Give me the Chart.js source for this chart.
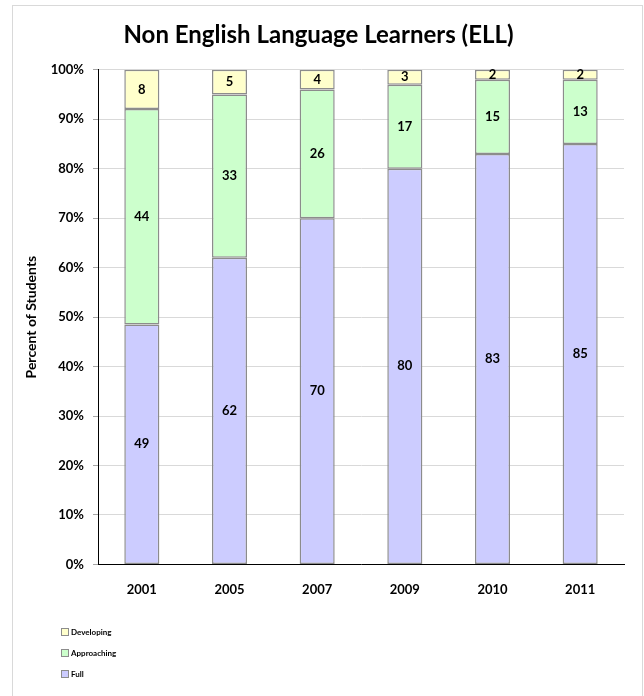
<!DOCTYPE html>
<html>
<head>
<meta charset="utf-8">
<title>Non English Language Learners (ELL)</title>
<script src="https://cdn.jsdelivr.net/npm/chart.js@4"></script>
<style>
    body { margin: 0; background: #fff; }
    #frame {
        position: absolute; left: 12px; top: 5px; width: 631px; height: 700px;
        border: 1px solid #d9d9d9; box-sizing: border-box; background: #fff;
    }
    #ellChart { position: absolute; left: 0; top: 0; }
    #legend {
        position: absolute; left: 48px; top: 615px;
        font: bold 8px Lato, "Noto Sans", sans-serif; color: #000;
    }
    .legend-item { display: flex; align-items: center; height: 21px; }
    .legend-box { width: 6px; height: 6px; border: 1px solid #8c8c8c; margin-right: 2px; }
</style>
</head>
<body>
<div id="frame">
    <canvas id="ellChart" width="631" height="691"></canvas>
    <div id="legend"></div>
</div>
<script>
const years = ['2001', '2005', '2007', '2009', '2010', '2011'];
const fullValues = [49, 62, 70, 80, 83, 85];
const approachingValues = [44, 33, 26, 17, 15, 13];
const developingValues = [8, 5, 4, 3, 2, 2];
const yTicks = [0, 10, 20, 30, 40, 50, 60, 70, 80, 90, 100];

const FONT = 'Lato, "Noto Sans", sans-serif';

// each column is scaled to 100%, labels keep the raw numbers
const totals = years.map((y, i) => fullValues[i] + approachingValues[i] + developingValues[i]);
const toPercent = arr => arr.map((v, i) => v / totals[i] * 100);

const series = [
    { label: 'Full', raw: fullValues, color: '#ccccff' },
    { label: 'Approaching', raw: approachingValues, color: '#ccffcc' },
    { label: 'Developing', raw: developingValues, color: '#ffffcc' }
];

// ==========================
// Value labels in the middle of each segment
// ==========================
const segmentLabels = {
    id: 'segmentLabels',
    afterDatasetsDraw(chart) {
        const ctx = chart.ctx;
        ctx.save();
        ctx.font = `bold 13px ${FONT}`;
        ctx.fillStyle = '#000';
        ctx.textAlign = 'center';
        ctx.textBaseline = 'middle';
        chart.data.datasets.forEach((ds, di) => {
            chart.getDatasetMeta(di).data.forEach((bar, i) => {
                ctx.fillText(String(ds.raw[i]), bar.x, (bar.y + bar.base) / 2);
            });
        });
        ctx.restore();
    }
};

const ellChart = new Chart(document.getElementById('ellChart').getContext('2d'), {
    type: 'bar',
    data: {
        labels: years,
        datasets: series.map(s => ({
            label: s.label,
            raw: s.raw,
            data: toPercent(s.raw),
            backgroundColor: s.color,
            borderColor: '#8c8c8c',
            borderWidth: 1.5,
            borderSkipped: false,
            barPercentage: 0.4,
            categoryPercentage: 1
        }))
    },
    options: {
        responsive: false,
        animation: false,
        layout: { padding: { left: 0, right: 20, top: 0, bottom: 89 } },
        plugins: {
            legend: { display: false },
            tooltip: { enabled: false },
            title: {
                display: true,
                text: 'Non English Language Learners (ELL)',
                color: '#000',
                font: { family: FONT, size: 24, weight: 'bold' },
                padding: { top: 15, bottom: 20 }
            }
        },
        scales: {
            x: {
                stacked: true,
                grid: { display: false },
                border: { color: '#000', width: 1 },
                ticks: { color: '#000', font: { family: FONT, size: 13, weight: 'bold' }, padding: 10 }
            },
            y: {
                stacked: true,
                min: 0,
                max: 100,
                afterBuildTicks(scale) { scale.ticks = yTicks.map(v => ({ value: v })); },
                grid: { color: '#d9d9d9', tickColor: '#a6a6a6', tickLength: 5 },
                border: { color: '#000', width: 1 },
                ticks: {
                    color: '#000',
                    font: { family: FONT, size: 13, weight: 'bold' },
                    padding: 9,
                    callback: v => v + '%'
                },
                title: {
                    display: true,
                    text: 'Percent of Students',
                    color: '#000',
                    font: { family: FONT, size: 14, weight: 'bold' },
                    padding: { top: 10, bottom: 0 }
                },
                afterFit(scale) { scale.width = 85; }
            }
        }
    },
    plugins: [segmentLabels]
});

// ==========================
// Legend, top series first
// ==========================
const legend = document.getElementById('legend');
ellChart.data.datasets.slice().reverse().forEach(ds => {
    const item = document.createElement('div');
    item.className = 'legend-item';
    item.innerHTML = `<span class="legend-box" style="background:${ds.backgroundColor}"></span>${ds.label}`;
    legend.appendChild(item);
});
</script>
</body>
</html>
